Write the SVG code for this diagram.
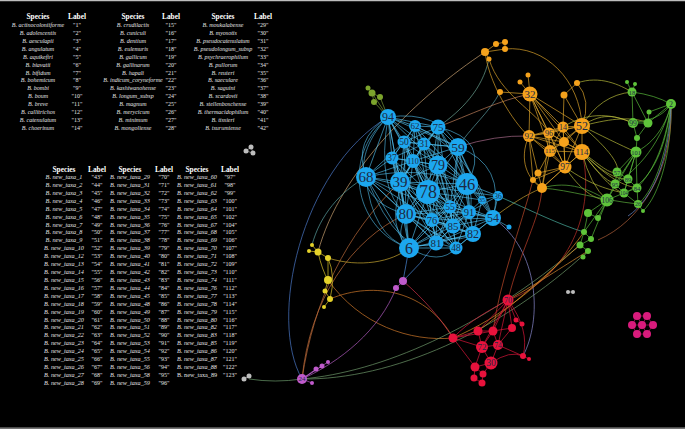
<svg xmlns="http://www.w3.org/2000/svg" width="685" height="429" viewBox="0 0 685 429">
<style>
.th{font-family:"Liberation Serif",serif;font-weight:bold;font-size:7.4px;fill:#fff;text-anchor:middle}
.td{font-family:"Liberation Serif",serif;font-style:italic;font-size:6px;fill:#e4e4e4;text-anchor:middle}
.td2{font-family:"Liberation Serif",serif;font-style:italic;font-size:6.2px;fill:#e4e4e4;text-anchor:middle}
.tl{font-family:"Liberation Serif",serif;font-size:6px;fill:#e4e4e4;text-anchor:middle}
.e{fill:none;stroke-width:0.7}
.node text{font-family:"Liberation Serif",serif;fill:#1c2a44;text-anchor:middle;dominant-baseline:central}
.nb circle{fill:#1ca7ef}
.no circle{fill:#f5a21c}
.ng circle{fill:#5fc43a}
.nv circle{fill:#7ca42c}
.ny circle{fill:#e5d22a}
.np circle{fill:#bf5acb}
.nr circle{fill:#e8123c}
.nk circle{fill:#d81b7c}
.nx circle{fill:#bdbdbd}
</style>
<rect width="685" height="429" fill="#000"/>
<line x1="0" y1="0.6" x2="685" y2="0.6" stroke="#bdbdbd" stroke-width="1.2"/>
<line x1="0" y1="428.2" x2="685" y2="428.2" stroke="#9a9a9a" stroke-width="1.2"/>

<g id="table1">
<text class="th" x="38" y="18.5">Species</text><text class="th" x="77" y="18.5">Label</text>
<text class="th" x="133" y="18.5">Species</text><text class="th" x="171" y="18.5">Label</text>
<text class="th" x="223" y="18.5">Species</text><text class="th" x="263" y="18.5">Label</text>
<text class="td" x="38" y="27"><tspan x="38" y="27">B. actinocoloniiforme</tspan><tspan x="38" dy="7.92">B. adolescentis</tspan><tspan x="38" dy="7.92">B. aesculapii</tspan><tspan x="38" dy="7.92">B. angulatum</tspan><tspan x="38" dy="7.92">B. aquikefiri</tspan><tspan x="38" dy="7.92">B. biavatii</tspan><tspan x="38" dy="7.92">B. bifidum</tspan><tspan x="38" dy="7.92">B. bohemicum</tspan><tspan x="38" dy="7.92">B. bombi</tspan><tspan x="38" dy="7.92">B. boum</tspan><tspan x="38" dy="7.92">B. breve</tspan><tspan x="38" dy="7.92">B. callitrichos</tspan><tspan x="38" dy="7.92">B. catenulatum</tspan><tspan x="38" dy="7.92">B. choerinum</tspan></text>
<text class="tl" x="77" y="27"><tspan x="77" y="27">"1"</tspan><tspan x="77" dy="7.92">"2"</tspan><tspan x="77" dy="7.92">"3"</tspan><tspan x="77" dy="7.92">"4"</tspan><tspan x="77" dy="7.92">"5"</tspan><tspan x="77" dy="7.92">"6"</tspan><tspan x="77" dy="7.92">"7"</tspan><tspan x="77" dy="7.92">"8"</tspan><tspan x="77" dy="7.92">"9"</tspan><tspan x="77" dy="7.92">"10"</tspan><tspan x="77" dy="7.92">"11"</tspan><tspan x="77" dy="7.92">"12"</tspan><tspan x="77" dy="7.92">"13"</tspan><tspan x="77" dy="7.92">"14"</tspan></text>
<text class="td" x="133" y="27"><tspan x="133" y="27">B. crudilactis</tspan><tspan x="133" dy="7.92">B. cuniculi</tspan><tspan x="133" dy="7.92">B. dentium</tspan><tspan x="133" dy="7.92">B. eulemuris</tspan><tspan x="133" dy="7.92">B. gallicum</tspan><tspan x="133" dy="7.92">B. gallinarum</tspan><tspan x="133" dy="7.92">B. hapali</tspan><tspan x="133" dy="7.92">B. indicum_coryneforme</tspan><tspan x="133" dy="7.92">B. kashiwanohense</tspan><tspan x="133" dy="7.92">B. longum_subsp</tspan><tspan x="133" dy="7.92">B. magnum</tspan><tspan x="133" dy="7.92">B. merycicum</tspan><tspan x="133" dy="7.92">B. minimum</tspan><tspan x="133" dy="7.92">B. mongoliense</tspan></text>
<text class="tl" x="171" y="27"><tspan x="171" y="27">"15"</tspan><tspan x="171" dy="7.92">"16"</tspan><tspan x="171" dy="7.92">"17"</tspan><tspan x="171" dy="7.92">"18"</tspan><tspan x="171" dy="7.92">"19"</tspan><tspan x="171" dy="7.92">"20"</tspan><tspan x="171" dy="7.92">"21"</tspan><tspan x="171" dy="7.92">"22"</tspan><tspan x="171" dy="7.92">"23"</tspan><tspan x="171" dy="7.92">"24"</tspan><tspan x="171" dy="7.92">"25"</tspan><tspan x="171" dy="7.92">"26"</tspan><tspan x="171" dy="7.92">"27"</tspan><tspan x="171" dy="7.92">"28"</tspan></text>
<text class="td" x="223" y="27"><tspan x="223" y="27">B. moukalabense</tspan><tspan x="223" dy="7.92">B. myosotis</tspan><tspan x="223" dy="7.92">B. pseudocatenulatum</tspan><tspan x="223" dy="7.92">B. pseudolongum_subsp</tspan><tspan x="223" dy="7.92">B. psychraerophilum</tspan><tspan x="223" dy="7.92">B. pullorum</tspan><tspan x="223" dy="7.92">B. reuteri</tspan><tspan x="223" dy="7.92">B. saeculare</tspan><tspan x="223" dy="7.92">B. saguini</tspan><tspan x="223" dy="7.92">B. scardovii</tspan><tspan x="223" dy="7.92">B. stellenboschense</tspan><tspan x="223" dy="7.92">B. thermacidophilum</tspan><tspan x="223" dy="7.92">B. tissieri</tspan><tspan x="223" dy="7.92">B. tsurumiense</tspan></text>
<text class="tl" x="263" y="27"><tspan x="263" y="27">"29"</tspan><tspan x="263" dy="7.92">"30"</tspan><tspan x="263" dy="7.92">"31"</tspan><tspan x="263" dy="7.92">"32"</tspan><tspan x="263" dy="7.92">"33"</tspan><tspan x="263" dy="7.92">"34"</tspan><tspan x="263" dy="7.92">"35"</tspan><tspan x="263" dy="7.92">"36"</tspan><tspan x="263" dy="7.92">"37"</tspan><tspan x="263" dy="7.92">"38"</tspan><tspan x="263" dy="7.92">"39"</tspan><tspan x="263" dy="7.92">"40"</tspan><tspan x="263" dy="7.92">"41"</tspan><tspan x="263" dy="7.92">"42"</tspan></text>
</g>

<g id="table2">
<text class="th" x="64" y="171.5">Species</text><text class="th" x="97" y="171.5">Label</text>
<text class="th" x="130" y="171.5">Species</text><text class="th" x="164" y="171.5">Label</text>
<text class="th" x="197" y="171.5">Species</text><text class="th" x="230" y="171.5">Label</text>
<text class="td2" x="64" y="179"><tspan x="64" y="179">B. new_taxa_1</tspan><tspan x="64" dy="7.92">B. new_taxa_2</tspan><tspan x="64" dy="7.92">B. new_taxa_3</tspan><tspan x="64" dy="7.92">B. new_taxa_4</tspan><tspan x="64" dy="7.92">B. new_taxa_5</tspan><tspan x="64" dy="7.92">B. new_taxa_6</tspan><tspan x="64" dy="7.92">B. new_taxa_7</tspan><tspan x="64" dy="7.92">B. new_taxa_8</tspan><tspan x="64" dy="7.92">B. new_taxa_9</tspan><tspan x="64" dy="7.92">B. new_taxa_10</tspan><tspan x="64" dy="7.92">B. new_taxa_12</tspan><tspan x="64" dy="7.92">B. new_taxa_13</tspan><tspan x="64" dy="7.92">B. new_taxa_14</tspan><tspan x="64" dy="7.92">B. new_taxa_15</tspan><tspan x="64" dy="7.92">B. new_taxa_16</tspan><tspan x="64" dy="7.92">B. new_taxa_17</tspan><tspan x="64" dy="7.92">B. new_taxa_18</tspan><tspan x="64" dy="7.92">B. new_taxa_19</tspan><tspan x="64" dy="7.92">B. new_taxa_20</tspan><tspan x="64" dy="7.92">B. new_taxa_21</tspan><tspan x="64" dy="7.92">B. new_taxa_22</tspan><tspan x="64" dy="7.92">B. new_taxa_23</tspan><tspan x="64" dy="7.92">B. new_taxa_24</tspan><tspan x="64" dy="7.92">B. new_taxa_25</tspan><tspan x="64" dy="7.92">B. new_taxa_26</tspan><tspan x="64" dy="7.92">B. new_taxa_27</tspan><tspan x="64" dy="7.92">B. new_taxa_28</tspan></text>
<text class="tl" x="97" y="179"><tspan x="97" y="179">"43"</tspan><tspan x="97" dy="7.92">"44"</tspan><tspan x="97" dy="7.92">"45"</tspan><tspan x="97" dy="7.92">"46"</tspan><tspan x="97" dy="7.92">"47"</tspan><tspan x="97" dy="7.92">"48"</tspan><tspan x="97" dy="7.92">"49"</tspan><tspan x="97" dy="7.92">"50"</tspan><tspan x="97" dy="7.92">"51"</tspan><tspan x="97" dy="7.92">"52"</tspan><tspan x="97" dy="7.92">"53"</tspan><tspan x="97" dy="7.92">"54"</tspan><tspan x="97" dy="7.92">"55"</tspan><tspan x="97" dy="7.92">"56"</tspan><tspan x="97" dy="7.92">"57"</tspan><tspan x="97" dy="7.92">"58"</tspan><tspan x="97" dy="7.92">"59"</tspan><tspan x="97" dy="7.92">"60"</tspan><tspan x="97" dy="7.92">"61"</tspan><tspan x="97" dy="7.92">"62"</tspan><tspan x="97" dy="7.92">"63"</tspan><tspan x="97" dy="7.92">"64"</tspan><tspan x="97" dy="7.92">"65"</tspan><tspan x="97" dy="7.92">"66"</tspan><tspan x="97" dy="7.92">"67"</tspan><tspan x="97" dy="7.92">"68"</tspan><tspan x="97" dy="7.92">"69"</tspan></text>
<text class="td2" x="130" y="179"><tspan x="130" y="179">B. new_taxa_29</tspan><tspan x="130" dy="7.92">B. new_taxa_31</tspan><tspan x="130" dy="7.92">B. new_taxa_32</tspan><tspan x="130" dy="7.92">B. new_taxa_33</tspan><tspan x="130" dy="7.92">B. new_taxa_34</tspan><tspan x="130" dy="7.92">B. new_taxa_35</tspan><tspan x="130" dy="7.92">B. new_taxa_36</tspan><tspan x="130" dy="7.92">B. new_taxa_37</tspan><tspan x="130" dy="7.92">B. new_taxa_38</tspan><tspan x="130" dy="7.92">B. new_taxa_39</tspan><tspan x="130" dy="7.92">B. new_taxa_40</tspan><tspan x="130" dy="7.92">B. new_taxa_41</tspan><tspan x="130" dy="7.92">B. new_taxa_42</tspan><tspan x="130" dy="7.92">B. new_taxa_43</tspan><tspan x="130" dy="7.92">B. new_taxa_44</tspan><tspan x="130" dy="7.92">B. new_taxa_45</tspan><tspan x="130" dy="7.92">B. new_taxa_48</tspan><tspan x="130" dy="7.92">B. new_taxa_49</tspan><tspan x="130" dy="7.92">B. new_taxa_50</tspan><tspan x="130" dy="7.92">B. new_taxa_51</tspan><tspan x="130" dy="7.92">B. new_taxa_52</tspan><tspan x="130" dy="7.92">B. new_taxa_53</tspan><tspan x="130" dy="7.92">B. new_taxa_54</tspan><tspan x="130" dy="7.92">B. new_taxa_55</tspan><tspan x="130" dy="7.92">B. new_taxa_56</tspan><tspan x="130" dy="7.92">B. new_taxa_58</tspan><tspan x="130" dy="7.92">B. new_taxa_59</tspan></text>
<text class="tl" x="164" y="179"><tspan x="164" y="179">"70"</tspan><tspan x="164" dy="7.92">"71"</tspan><tspan x="164" dy="7.92">"72"</tspan><tspan x="164" dy="7.92">"73"</tspan><tspan x="164" dy="7.92">"74"</tspan><tspan x="164" dy="7.92">"75"</tspan><tspan x="164" dy="7.92">"76"</tspan><tspan x="164" dy="7.92">"77"</tspan><tspan x="164" dy="7.92">"78"</tspan><tspan x="164" dy="7.92">"79"</tspan><tspan x="164" dy="7.92">"80"</tspan><tspan x="164" dy="7.92">"81"</tspan><tspan x="164" dy="7.92">"82"</tspan><tspan x="164" dy="7.92">"83"</tspan><tspan x="164" dy="7.92">"84"</tspan><tspan x="164" dy="7.92">"85"</tspan><tspan x="164" dy="7.92">"86"</tspan><tspan x="164" dy="7.92">"87"</tspan><tspan x="164" dy="7.92">"88"</tspan><tspan x="164" dy="7.92">"89"</tspan><tspan x="164" dy="7.92">"90"</tspan><tspan x="164" dy="7.92">"91"</tspan><tspan x="164" dy="7.92">"92"</tspan><tspan x="164" dy="7.92">"93"</tspan><tspan x="164" dy="7.92">"94"</tspan><tspan x="164" dy="7.92">"95"</tspan><tspan x="164" dy="7.92">"96"</tspan></text>
<text class="td2" x="197" y="179"><tspan x="197" y="179">B. new_taxa_60</tspan><tspan x="197" dy="7.92">B. new_taxa_61</tspan><tspan x="197" dy="7.92">B. new_taxa_62</tspan><tspan x="197" dy="7.92">B. new_taxa_63</tspan><tspan x="197" dy="7.92">B. new_taxa_64</tspan><tspan x="197" dy="7.92">B. new_taxa_65</tspan><tspan x="197" dy="7.92">B. new_taxa_67</tspan><tspan x="197" dy="7.92">B. new_taxa_68</tspan><tspan x="197" dy="7.92">B. new_taxa_69</tspan><tspan x="197" dy="7.92">B. new_taxa_70</tspan><tspan x="197" dy="7.92">B. new_taxa_71</tspan><tspan x="197" dy="7.92">B. new_taxa_72</tspan><tspan x="197" dy="7.92">B. new_taxa_73</tspan><tspan x="197" dy="7.92">B. new_taxa_74</tspan><tspan x="197" dy="7.92">B. new_taxa_76</tspan><tspan x="197" dy="7.92">B. new_taxa_77</tspan><tspan x="197" dy="7.92">B. new_taxa_78</tspan><tspan x="197" dy="7.92">B. new_taxa_79</tspan><tspan x="197" dy="7.92">B. new_taxa_80</tspan><tspan x="197" dy="7.92">B. new_taxa_82</tspan><tspan x="197" dy="7.92">B. new_taxa_83</tspan><tspan x="197" dy="7.92">B. new_taxa_85</tspan><tspan x="197" dy="7.92">B. new_taxa_86</tspan><tspan x="197" dy="7.92">B. new_taxa_87</tspan><tspan x="197" dy="7.92">B. new_taxa_88</tspan><tspan x="197" dy="7.92" font-style="normal">B. new_taxa_89</tspan></text>
<text class="tl" x="230" y="179"><tspan x="230" y="179">"97"</tspan><tspan x="230" dy="7.92">"98"</tspan><tspan x="230" dy="7.92">"99"</tspan><tspan x="230" dy="7.92">"100"</tspan><tspan x="230" dy="7.92">"101"</tspan><tspan x="230" dy="7.92">"102"</tspan><tspan x="230" dy="7.92">"104"</tspan><tspan x="230" dy="7.92">"105"</tspan><tspan x="230" dy="7.92">"106"</tspan><tspan x="230" dy="7.92">"107"</tspan><tspan x="230" dy="7.92">"108"</tspan><tspan x="230" dy="7.92">"109"</tspan><tspan x="230" dy="7.92">"110"</tspan><tspan x="230" dy="7.92">"111"</tspan><tspan x="230" dy="7.92">"112"</tspan><tspan x="230" dy="7.92">"113"</tspan><tspan x="230" dy="7.92">"114"</tspan><tspan x="230" dy="7.92">"115"</tspan><tspan x="230" dy="7.92">"116"</tspan><tspan x="230" dy="7.92">"117"</tspan><tspan x="230" dy="7.92">"118"</tspan><tspan x="230" dy="7.92">"119"</tspan><tspan x="230" dy="7.92">"120"</tspan><tspan x="230" dy="7.92">"121"</tspan><tspan x="230" dy="7.92">"122"</tspan><tspan x="230" dy="7.92">"123"</tspan></text>
</g>

<g id="connectors">
<path class="e" stroke="#4a78c8" d="M388,117C300,170 268,320 302,379"/>
<path class="e" stroke="#c06c3a" d="M302,379C310,300 350,240 406,214"/>
<path class="e" stroke="#b8683a" d="M302,379C314,300 345,235 400,182"/>
<path class="e" stroke="#c8a070" stroke-width="0.6" d="M318,252C340,170 420,95 485,52"/>
<path class="e" stroke="#5aa0a0" d="M312,245C320,215 340,192 366,177"/>
<path class="e" stroke="#c8a830" d="M328,258C360,268 392,262 409,248"/>
<path class="e" stroke="#d0782a" d="M328,280C360,325 410,342 453,338"/>
<path class="e" stroke="#d0782a" d="M330,299C375,280 428,292 453,338"/>
<path class="e" stroke="#d0304a" d="M403,281C425,300 440,318 453,338"/>
<path class="e" stroke="#b05ac0" d="M396,288C380,330 340,362 302,379"/>
<path class="e" stroke="#4a8ad8" d="M409,248Q406,265 403,281M436,243Q420,265 403,281"/>
<path class="e" stroke="#6f9a6a" d="M302,379C380,372 480,330 580,245M302,379C392,380 500,332 588,251"/>
<path class="e" stroke="#6a9a6a" d="M302,379Q275,383 249,379"/>
<path class="e" stroke="#8a8ad0" d="M493,218C540,250 542,320 523,356"/>
<path class="e" stroke="#c8a030" d="M493,218C510,205 525,195 542,188"/>
<path class="e" stroke="#4ab0a0" d="M498,196C530,210 560,225 584,232"/>
<path class="e" stroke="#6aa090" d="M489,59C482,90 462,110 438,127"/>
<path class="e" stroke="#5a9aa0" d="M500,92C490,112 470,128 458,147"/>
<path class="e" stroke="#c0805a" d="M530,94C500,100 470,115 438,127"/>
<path class="e" stroke="#a86a8a" d="M529,136Q495,135 458,147"/>
<path class="e" stroke="#c0402a" d="M508,300C520,250 540,220 542,188"/>
<path class="e" stroke="#c04a2a" d="M493,331C500,280 520,230 533,180"/>
<path class="e" stroke="#c0302a" d="M582,152C598,220 560,282 508,300"/>
<path class="e" stroke="#e0902a" d="M453,338C500,318 550,280 584,232M478,331C520,300 560,262 580,245"/>
<path class="e" stroke="#d88a30" d="M508,300C540,282 570,262 588,251"/>
<path class="e" stroke="#7a9a3a" d="M372,93L388,117M380,97L388,117M374,102L388,117M368,88L372,93M372,93L380,97M372,93L374,102"/>
<path class="e" stroke="#52c2f2" stroke-width="0.65" opacity="0.9" d="M388,117L415,126M388,117L438,127M388,117L404,142M388,117L424,144M388,117L392,158M388,117L413,161M388,117L438,165M388,117L366,177M388,117L400,182M388,117L428,192M388,117L406,214M388,117L458,147M415,126L438,127M415,126L404,142M415,126L424,144M415,126L458,147M415,126L392,158M415,126L413,161M415,126L438,165M415,126L400,182M415,126L428,192M415,126L467,184M438,127L404,142M438,127L424,144M438,127L458,147M438,127L413,161M438,127L438,165M438,127L428,192M438,127L467,184M438,127L400,182M438,127L450,207M404,142L424,144M404,142L392,158M404,142L413,161M404,142L438,165M404,142L366,177M404,142L400,182M404,142L428,192M404,142L406,214M404,142L458,147M424,144L458,147M424,144L392,158M424,144L413,161M424,144L438,165M424,144L400,182M424,144L428,192M424,144L467,184M424,144L450,207M458,147L413,161M458,147L438,165M458,147L428,192M458,147L467,184M458,147L450,207M458,147L469,212M458,147L493,218M458,147L482,200M458,147L453,226M392,158L413,161M392,158L438,165M392,158L366,177M392,158L400,182M392,158L428,192M392,158L406,214M392,158L432,220M392,158L409,248M413,161L438,165M413,161L366,177M413,161L400,182M413,161L428,192M413,161L467,184M413,161L450,207M413,161L406,214M413,161L432,220M413,161L453,226M438,165L400,182M438,165L428,192M438,165L467,184M438,165L450,207M438,165L469,212M438,165L406,214M438,165L432,220M438,165L453,226M438,165L473,234M438,165L436,243M366,177L400,182M366,177L428,192M366,177L406,214M366,177L409,248M366,177L432,220M366,177L436,243M400,182L428,192M400,182L467,184M400,182L450,207M400,182L406,214M400,182L432,220M400,182L453,226M400,182L409,248M400,182L436,243M400,182L456,248M428,192L467,184M428,192L482,200M428,192L450,207M428,192L469,212M428,192L493,218M428,192L406,214M428,192L432,220M428,192L453,226M428,192L473,234M428,192L409,248M428,192L436,243M428,192L456,248M467,184L482,200M467,184L498,196M467,184L450,207M467,184L469,212M467,184L493,218M467,184L432,220M467,184L453,226M467,184L473,234M467,184L436,243M482,200L498,196M482,200L469,212M482,200L493,218M482,200L473,234M498,196L493,218M498,196L469,212M450,207L469,212M450,207L493,218M450,207L406,214M450,207L432,220M450,207L453,226M450,207L473,234M450,207L409,248M450,207L436,243M450,207L456,248M469,212L493,218M469,212L406,214M469,212L432,220M469,212L453,226M469,212L473,234M469,212L409,248M469,212L436,243M469,212L456,248M493,218L432,220M493,218L453,226M493,218L473,234M493,218L456,248M493,218L436,243M406,214L432,220M406,214L453,226M406,214L409,248M406,214L436,243M406,214L456,248M406,214L473,234M432,220L453,226M432,220L473,234M432,220L409,248M432,220L436,243M432,220L456,248M453,226L473,234M453,226L409,248M453,226L436,243M453,226L456,248M473,234L409,248M473,234L436,243M473,234L456,248M409,248L436,243M409,248L456,248M436,243L456,248"/>
<path class="e" stroke="#52c2f2" stroke-width="0.6" opacity="0.85" d="M388,117Q352,140 366,177M388,117C338,160 358,232 409,248M366,177Q372,236 409,248M458,147Q506,165 493,218M438,127Q492,140 467,184M388,117Q376,190 406,214M493,218L509,227M409,248Q440,266 456,248M406,214Q394,240 409,248M388,117C355,150 350,200 406,214M366,177Q420,165 467,184M366,177Q430,210 493,218M388,117Q440,110 458,147M415,126Q470,150 493,218M404,142Q440,200 473,234M392,158Q430,240 456,248M366,177Q400,260 436,243M424,144Q470,180 482,200M438,127Q480,190 469,212M400,182Q450,190 498,196M406,214Q450,250 473,234M413,161Q380,220 409,248"/>
<path class="e" stroke="#d9a02a" d="M485,52L496,44M496,44L505,42M505,42L505,49M485,52L489,59M485,52L505,49M489,59C500,95 535,110 549,133M505,49C545,45 580,80 582,126M485,52C490,90 520,130 529,136M530,94L520,82M530,94L528,75M530,94L500,92M530,94L549,133M530,94L563,127M530,94L529,136M530,94L550,151M530,94L564,142M530,94L582,126M530,94L565,167M530,94L582,152M564,95L577,83M564,95L563,127M564,95L582,126M577,83Q592,100 582,126M529,136L549,133M529,136L563,127M529,136L582,126M529,136L550,151M529,136L564,142M529,136L582,152M529,136L565,167M529,136L538,173M529,136L533,180M549,133L563,127M549,133L582,126M549,133L550,151M549,133L564,142M549,133L582,152M549,133L565,167M563,127L582,126M563,127L564,142M563,127L550,151M563,127L582,152M563,127L565,167M582,126L564,142M582,126L550,151M582,126L582,152M582,126L565,167M550,151L564,142M550,151L582,152M550,151L565,167M550,151L538,173M550,151L542,188M564,142L582,152M564,142L565,167M582,152L565,167M582,152L542,188M565,167L538,173M565,167L533,180M565,167L542,188M538,173L533,180M533,180L542,188M538,173L542,188M529,136C518,160 528,180 542,188M549,133Q545,170 542,188"/>
<path class="e" stroke="#b4b83a" d="M582,126C605,110 620,118 633,123M582,126C605,120 630,115 648,123M582,126C600,135 620,145 636,152M582,126Q600,95 632,92M577,83C600,75 620,85 632,92M582,152C600,165 610,175 617,172M582,152C600,170 615,180 628,179M582,152C595,170 605,180 615,184M582,152C605,175 620,185 637,188M582,152C600,175 612,190 624,193M582,152Q590,185 607,200M565,167C580,190 595,200 607,200M565,167C590,185 610,190 624,193M563,127C590,110 615,115 633,123M582,126C610,150 620,165 617,172"/>
<path class="e" stroke="#5cae3c" d="M542,188C570,180 590,190 607,200M542,188C570,190 600,200 638,204"/>
<path class="e" stroke="#58b83a" d="M627,82L632,92M635,84L632,92M632,92L633,123M632,92L648,123M671,104L649,112M649,112L648,123M633,123L648,123M633,123L637,138M648,123L637,138M637,138L636,152M636,152L617,172M636,152L628,179M636,152L615,184M636,152L637,188M636,152L624,193M636,152L607,200M617,172L628,179M617,172L615,184M628,179L637,188M628,179L624,193M615,184L624,193M637,188L624,193M624,193L607,200M615,184L607,200M637,188L638,204M624,193L638,204M638,204L643,211M607,200L588,213M607,200L598,218M588,213L598,218M607,200L584,232M588,213L584,232M584,232L591,239M591,239L580,245M580,245L588,251M588,251L583,257M584,232L580,245M607,200L591,239M632,92Q655,95 671,104M671,104C660,120 645,120 633,123M671,104L648,123M671,104C665,130 650,145 636,152M671,104C665,150 650,175 637,188M671,104C665,160 645,185 624,193M671,104C668,160 650,195 638,204M671,104C660,150 630,175 615,184M671,104C672,150 660,195 643,211"/>
<path class="e" stroke="#b0603a" d="M671,104C674,170 640,222 598,240"/>
<path class="e" stroke="#6a8ad0" d="M671,104C670,160 652,200 628,216"/>
<path class="e" stroke="#d8c22a" d="M312,245L318,252M309,251L318,252M318,252L328,258M328,258L328,280M328,280L325,291M325,291L330,299M330,299L324,307M318,252Q322,270 328,280M328,258Q336,276 330,299"/>
<path class="e" stroke="#b05ac0" d="M302,379L316,369M302,379L322,366M302,379L328,362M302,379L312,383M403,281L396,288"/>
<path class="e" stroke="#d8163a" d="M508,300L516,320M516,320L522,324M508,300L512,328M508,300L493,331M508,300L478,331M508,300L482,347M508,300L498,345M508,300Q530,330 523,356M512,328L498,345M512,328L493,331M493,331L478,331M493,331L482,347M493,331L498,345M478,331L482,347M478,331L453,338M453,338L482,347M453,338L493,331M453,338Q470,360 475,367M482,347L498,345M482,347L491,363M498,345L491,363M491,363L475,367M491,363L483,374M475,367L483,374M475,367L474,378M474,378L482,383M483,374L482,383M482,347L475,367M498,345L523,356M523,356L529,359M491,363Q510,350 523,356M453,338C470,320 490,310 508,300"/>
<path class="e" stroke="#b0155f" d="M637,316L647,316M647,316L653,325M653,325L647,334M647,334L637,334M637,334L632,325M632,325L637,316M642,325L637,316M642,325L647,316M642,325L653,325M642,325L647,334M642,325L637,334M642,325L632,325"/>
<path class="e" stroke="#999" d="M244,379L249,376M246,151L251,147M251,147L253,153M246,151L253,153M568,292L573,292"/>
</g>

<g id="nodes">
<g id="n94" class="node nb"><circle cx="388" cy="117" r="8"/><text x="388" y="117" font-size="12">94</text></g>
<g id="n62" class="node nb"><circle cx="415" cy="126" r="6"/><text x="415" y="126" font-size="9">62</text></g>
<g id="n75" class="node nb"><circle cx="438" cy="127" r="7.5"/><text x="438" y="127" font-size="11">75</text></g>
<g id="n50" class="node nb"><circle cx="404" cy="142" r="6.5"/><text x="404" y="142" font-size="9.5">50</text></g>
<g id="n31" class="node nb"><circle cx="424" cy="144" r="6.5"/><text x="424" y="144" font-size="9.5">31</text></g>
<g id="n59" class="node nb"><circle cx="458" cy="147" r="9"/><text x="458" y="147" font-size="13.5">59</text></g>
<g id="n37" class="node nb"><circle cx="392" cy="158" r="6.5"/><text x="392" y="158" font-size="9.5">37</text></g>
<g id="n110" class="node nb"><circle cx="413" cy="161" r="7"/><text x="413" y="161" font-size="8">110</text></g>
<g id="n79" class="node nb"><circle cx="438" cy="165" r="9.5"/><text x="438" y="165" font-size="14">79</text></g>
<g id="n68" class="node nb"><circle cx="366" cy="177" r="10"/><text x="366" y="177" font-size="15">68</text></g>
<g id="n39" class="node nb"><circle cx="400" cy="182" r="10"/><text x="400" y="182" font-size="15">39</text></g>
<g id="n78" class="node nb"><circle cx="428" cy="192" r="12"/><text x="428" y="192" font-size="18">78</text></g>
<g id="n46" class="node nb"><circle cx="467" cy="184" r="11"/><text x="467" y="184" font-size="16.5">46</text></g>
<g id="n35" class="node nb"><circle cx="482" cy="200" r="4"/><text x="482" y="200" font-size="6">35</text></g>
<g id="n36" class="node nb"><circle cx="498" cy="196" r="5"/><text x="498" y="196" font-size="7.5">36</text></g>
<g id="n55" class="node nb"><circle cx="450" cy="207" r="6.5"/><text x="450" y="207" font-size="9.5">55</text></g>
<g id="n91" class="node nb"><circle cx="469" cy="212" r="7"/><text x="469" y="212" font-size="10.5">91</text></g>
<g id="n54" class="node nb"><circle cx="493" cy="218" r="8"/><text x="493" y="218" font-size="12">54</text></g>
<g id="n80" class="node nb"><circle cx="406" cy="214" r="10"/><text x="406" y="214" font-size="15">80</text></g>
<g id="n76" class="node nb"><circle cx="432" cy="220" r="7"/><text x="432" y="220" font-size="10.5">76</text></g>
<g id="n85" class="node nb"><circle cx="453" cy="226" r="7.5"/><text x="453" y="226" font-size="11">85</text></g>
<g id="n82" class="node nb"><circle cx="473" cy="234" r="8"/><text x="473" y="234" font-size="12">82</text></g>
<g id="n6" class="node nb"><circle cx="409" cy="248" r="10"/><text x="409" y="248" font-size="16">6</text></g>
<g id="n81" class="node nb"><circle cx="436" cy="243" r="7.5"/><text x="436" y="243" font-size="11">81</text></g>
<g id="n48" class="node nb"><circle cx="456" cy="248" r="6.5"/><text x="456" y="248" font-size="9.5">48</text></g>
<g id="nb1" class="node nb"><circle cx="509" cy="227" r="2.5"/></g>
<g id="nv1" class="node nv"><circle cx="368" cy="88" r="2.5"/></g>
<g id="nv2" class="node nv"><circle cx="372" cy="93" r="3.5"/></g>
<g id="nv3" class="node nv"><circle cx="380" cy="97" r="3"/></g>
<g id="nv4" class="node nv"><circle cx="374" cy="102" r="3"/></g>
<g id="no1" class="node no"><circle cx="485" cy="52" r="4"/></g>
<g id="no2" class="node no"><circle cx="496" cy="44" r="3"/></g>
<g id="no3" class="node no"><circle cx="505" cy="42" r="3"/></g>
<g id="no4" class="node no"><circle cx="505" cy="49" r="3"/></g>
<g id="no5" class="node no"><circle cx="489" cy="59" r="2.5"/></g>
<g id="n32" class="node no"><circle cx="530" cy="94" r="7.5"/><text x="530" y="94" font-size="11">32</text></g>
<g id="no6" class="node no"><circle cx="520" cy="82" r="2.5"/></g>
<g id="no7" class="node no"><circle cx="528" cy="75" r="2.5"/></g>
<g id="no8" class="node no"><circle cx="500" cy="92" r="3"/></g>
<g id="no9" class="node no"><circle cx="577" cy="83" r="3"/></g>
<g id="no10" class="node no"><circle cx="564" cy="95" r="3.5"/></g>
<g id="n52" class="node no"><circle cx="582" cy="126" r="8"/><text x="582" y="126" font-size="12">52</text></g>
<g id="n14" class="node no"><circle cx="563" cy="127" r="5.5"/><text x="563" y="127" font-size="8">14</text></g>
<g id="n96" class="node no"><circle cx="549" cy="133" r="5.5"/><text x="549" y="133" font-size="8">96</text></g>
<g id="n92" class="node no"><circle cx="529" cy="136" r="6"/><text x="529" y="136" font-size="9">92</text></g>
<g id="no11" class="node no"><circle cx="564" cy="142" r="5"/></g>
<g id="n115" class="node no"><circle cx="550" cy="151" r="6"/><text x="550" y="151" font-size="7">115</text></g>
<g id="n114" class="node no"><circle cx="582" cy="152" r="8"/><text x="582" y="152" font-size="9">114</text></g>
<g id="n97" class="node no"><circle cx="565" cy="167" r="6.5"/><text x="565" y="167" font-size="9.5">97</text></g>
<g id="no12" class="node no"><circle cx="538" cy="173" r="3.5"/></g>
<g id="no13" class="node no"><circle cx="533" cy="180" r="3"/></g>
<g id="no14" class="node no"><circle cx="542" cy="188" r="5"/></g>
<g id="ng1" class="node ng"><circle cx="627" cy="82" r="2"/></g>
<g id="ng2" class="node ng"><circle cx="635" cy="84" r="2"/></g>
<g id="n18" class="node ng"><circle cx="632" cy="92" r="4.5"/><text x="632" y="92" font-size="6.5">18</text></g>
<g id="n2" class="node ng"><circle cx="671" cy="104" r="5"/><text x="671" y="104" font-size="8">2</text></g>
<g id="ng3" class="node ng"><circle cx="649" cy="112" r="2.5"/></g>
<g id="n99" class="node ng"><circle cx="633" cy="123" r="5"/><text x="633" y="123" font-size="7.5">99</text></g>
<g id="ng4" class="node ng"><circle cx="648" cy="123" r="4.5"/></g>
<g id="ng5" class="node ng"><circle cx="637" cy="138" r="3"/></g>
<g id="n101" class="node ng"><circle cx="636" cy="152" r="5.5"/><text x="636" y="152" font-size="6.5">101</text></g>
<g id="n57" class="node ng"><circle cx="617" cy="172" r="4.5"/><text x="617" y="172" font-size="6.5">57</text></g>
<g id="n89" class="node ng"><circle cx="628" cy="179" r="4.5"/><text x="628" y="179" font-size="6.5">89</text></g>
<g id="n95" class="node ng"><circle cx="615" cy="184" r="4.5"/><text x="615" y="184" font-size="6.5">95</text></g>
<g id="n84" class="node ng"><circle cx="637" cy="188" r="4.5"/><text x="637" y="188" font-size="6.5">84</text></g>
<g id="n104" class="node ng"><circle cx="624" cy="193" r="4.5"/><text x="624" y="193" font-size="5.2">104</text></g>
<g id="n106" class="node ng"><circle cx="607" cy="200" r="6.5"/><text x="607" y="200" font-size="7.5">106</text></g>
<g id="n26" class="node ng"><circle cx="638" cy="204" r="4"/><text x="638" y="204" font-size="6">26</text></g>
<g id="ng6" class="node ng"><circle cx="643" cy="211" r="2"/></g>
<g id="ng7" class="node ng"><circle cx="588" cy="213" r="4"/></g>
<g id="ng8" class="node ng"><circle cx="598" cy="218" r="3"/></g>
<g id="ng9" class="node ng"><circle cx="584" cy="232" r="3"/></g>
<g id="ng10" class="node ng"><circle cx="591" cy="239" r="3"/></g>
<g id="ng11" class="node ng"><circle cx="580" cy="245" r="3.5"/></g>
<g id="ng12" class="node ng"><circle cx="588" cy="251" r="3"/></g>
<g id="ng13" class="node ng"><circle cx="583" cy="257" r="2.5"/></g>
<g id="ny1" class="node ny"><circle cx="312" cy="245" r="2"/></g>
<g id="ny2" class="node ny"><circle cx="309" cy="251" r="2"/></g>
<g id="ny3" class="node ny"><circle cx="318" cy="252" r="3.5"/></g>
<g id="ny4" class="node ny"><circle cx="328" cy="258" r="3"/></g>
<g id="ny5" class="node ny"><circle cx="328" cy="280" r="4"/></g>
<g id="ny6" class="node ny"><circle cx="325" cy="291" r="2.5"/></g>
<g id="ny7" class="node ny"><circle cx="330" cy="299" r="3"/></g>
<g id="ny8" class="node ny"><circle cx="324" cy="307" r="2"/></g>
<g id="n24" class="node np"><circle cx="302" cy="379" r="5"/><text x="302" y="379" font-size="7">24</text></g>
<g id="np1" class="node np"><circle cx="316" cy="369" r="2.5"/></g>
<g id="np2" class="node np"><circle cx="322" cy="366" r="2.5"/></g>
<g id="np3" class="node np"><circle cx="328" cy="362" r="2"/></g>
<g id="np4" class="node np"><circle cx="312" cy="383" r="2"/></g>
<g id="np5" class="node np"><circle cx="403" cy="281" r="4"/></g>
<g id="np6" class="node np"><circle cx="396" cy="288" r="3"/></g>
<g id="n70" class="node nr"><circle cx="508" cy="300" r="5.5"/><text x="508" y="300" font-size="8">70</text></g>
<g id="nr1" class="node nr"><circle cx="516" cy="320" r="2.5"/></g>
<g id="nr2" class="node nr"><circle cx="522" cy="324" r="2.5"/></g>
<g id="nr3" class="node nr"><circle cx="512" cy="328" r="4"/></g>
<g id="nr4" class="node nr"><circle cx="493" cy="331" r="4.5"/></g>
<g id="nr5" class="node nr"><circle cx="478" cy="331" r="4.5"/></g>
<g id="nr6" class="node nr"><circle cx="453" cy="338" r="4.5"/></g>
<g id="n72" class="node nr"><circle cx="482" cy="347" r="6"/><text x="482" y="347" font-size="9">72</text></g>
<g id="n74" class="node nr"><circle cx="498" cy="345" r="5"/><text x="498" y="345" font-size="7.5">74</text></g>
<g id="n30" class="node nr"><circle cx="491" cy="363" r="6.5"/><text x="491" y="363" font-size="9.5">30</text></g>
<g id="nr7" class="node nr"><circle cx="475" cy="367" r="4.5"/></g>
<g id="nr8" class="node nr"><circle cx="483" cy="374" r="3.5"/></g>
<g id="nr9" class="node nr"><circle cx="474" cy="378" r="3.5"/></g>
<g id="nr10" class="node nr"><circle cx="482" cy="383" r="3.5"/></g>
<g id="nr11" class="node nr"><circle cx="523" cy="356" r="3"/></g>
<g id="nr12" class="node nr"><circle cx="529" cy="359" r="2"/></g>
<g id="nk1" class="node nk"><circle cx="637" cy="316" r="4"/></g>
<g id="nk2" class="node nk"><circle cx="647" cy="316" r="4"/></g>
<g id="nk3" class="node nk"><circle cx="632" cy="325" r="4"/></g>
<g id="nk4" class="node nk"><circle cx="642" cy="325" r="4"/></g>
<g id="nk5" class="node nk"><circle cx="653" cy="325" r="4"/></g>
<g id="nk6" class="node nk"><circle cx="637" cy="334" r="4"/></g>
<g id="nk7" class="node nk"><circle cx="647" cy="334" r="4"/></g>
<g id="nx1" class="node nx"><circle cx="246" cy="151" r="2.5"/></g>
<g id="nx2" class="node nx"><circle cx="251" cy="147" r="2.5"/></g>
<g id="nx3" class="node nx"><circle cx="253" cy="153" r="2.5"/></g>
<g id="nx4" class="node nx"><circle cx="244" cy="379" r="2.5"/></g>
<g id="nx5" class="node nx"><circle cx="249" cy="376" r="2.5"/></g>
<g id="nx6" class="node nx"><circle cx="568" cy="292" r="2"/></g>
<g id="nx7" class="node nx"><circle cx="573" cy="292" r="2"/></g>
</g>
</svg>
